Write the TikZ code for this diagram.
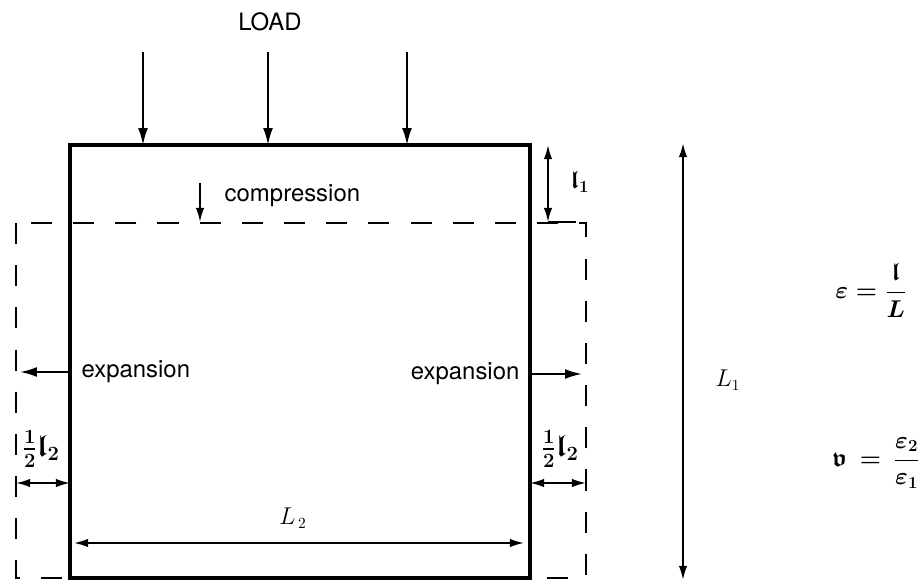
\documentclass[tikz,border=0pt]{standalone}
\usepackage{amsmath, amssymb}
\usepackage{fontspec}
\setmainfont{TeX Gyre Heros}
\usetikzlibrary{
  arrows.meta,
}
\tikzset{
  wall/.style={line width=2.4pt},
  outline/.style={line width=1.8pt, dash pattern=on 15pt off 15pt},
  force/.style={line width=1.4pt, -{Latex[length=12pt,width=7pt]}},
  dimline/.style={line width=1.4pt, {Latex[length=10pt,width=6pt]}-{Latex[length=10pt,width=6pt]}},
  mathlabel/.style={font=\fontsize{18}{21}\selectfont\boldmath},
  halflabel/.style={font=\fontsize{22}{25}\selectfont\boldmath},
}

\begin{document}
\begin{tikzpicture}[x=0.025cm, y=-0.025cm]
	\tikzstyle{every node}=[font=\fontsize{17}{20}\selectfont, inner sep=1pt]
	\useasboundingbox (0,0) rectangle (920,584);
	% block and its deformed outline
	\coordinate (tl) at (70,145);
	\coordinate (br) at (530,578);
	\coordinate (dtl) at (16,223);
	\coordinate (dbr) at (586,578);
	\draw [outline] (dtl) rectangle (dbr);
	\draw [wall] (tl) rectangle (br);
	% Load
	\node (load) at (270,22) {LOAD};
	\coordinate (la1) at (143,52);
	\coordinate (lb1) at (143,145);
	\coordinate (la2) at (268,52);
	\coordinate (lb2) at (268,145);
	\coordinate (la3) at (407,52);
	\coordinate (lb3) at (407,145);
	\draw [force] (la1) -- (lb1);
	\draw [force] (la2) -- (lb2);
	\draw [force] (la3) -- (lb3);
	% Compression
	\node (comp) [anchor=west] at (223,196) {compression};
	\coordinate (ca) at (200,183);
	\coordinate (cb) at (200,222);
	\draw [force, -{Latex[length=10pt,width=6pt]}] (ca) -- (cb);
	\coordinate (ta) at (548,145);
	\coordinate (tb) at (548,222);
	\coordinate (tc) at (576,222);
	\draw [dimline] (ta) -- (tb);
	\draw [line width=1.6pt] (tb) -- (tc);
	\node (lone) [mathlabel] at (580,182) {$\mathfrak{l}_1$};
	% Total height
	\coordinate (ha) at (683,143);
	\coordinate (hb) at (683,580);
	\draw [dimline] (ha) -- (hb);
	\node (Lone) [mathlabel, font=\fontsize{16}{19}\selectfont] at (728,380) {$L_1$};
	% Expansion
	\coordinate (exl) at (70,372);
	\coordinate (exlt) at (20,372);
	\draw [force] (exl) -- (exlt);
	\node (expl) [anchor=west] at (80,372) {expansion};
	\coordinate (exr) at (530,374);
	\coordinate (exrt) at (582,374);
	\draw [force] (exr) -- (exrt);
	\node (expr) [anchor=east] at (521,374) {expansion};
	% Half widths
	\coordinate (hla) at (16,483);
	\coordinate (hlb) at (70,483);
	\draw [dimline] (hla) -- (hlb);
	\node (halfl) [halflabel] at (41,449) {$\frac{1}{2}\mathfrak{l}_2$};
	\coordinate (hra) at (530,483);
	\coordinate (hrb) at (586,483);
	\draw [dimline] (hra) -- (hrb);
	\node (halfr) [halflabel] at (560,449) {$\frac{1}{2}\mathfrak{l}_2$};
	% Width
	\coordinate (wa) at (74,543);
	\coordinate (wb) at (524,543);
	\draw [dimline] (wa) -- (wb);
	\node (Ltwo) [mathlabel, font=\fontsize{16}{19}\selectfont] at (293,518) {$L_{\,2}$};
	% Formulas
	\node (strain) [mathlabel] at (871,290) {$\varepsilon=\dfrac{\mathfrak{l}}{L}$};
	\node (poisson) [mathlabel] at (876,463) {$\mathfrak{v}\,=\,\dfrac{\varepsilon_2}{\varepsilon_1}$};
\end{tikzpicture}
\end{document}
